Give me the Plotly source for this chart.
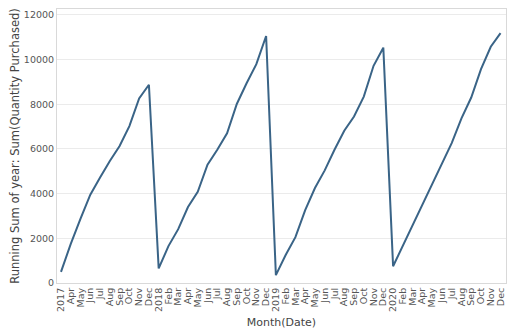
import plotly.graph_objects as go

months = ["2017-03","2017-04","2017-05","2017-06","2017-07","2017-08","2017-09","2017-10","2017-11","2017-12",
          "2018-01","2018-02","2018-03","2018-04","2018-05","2018-06","2018-07","2018-08","2018-09","2018-10","2018-11","2018-12",
          "2019-01","2019-02","2019-03","2019-04","2019-05","2019-06","2019-07","2019-08","2019-09","2019-10","2019-11","2019-12",
          "2020-01","2020-02","2020-03","2020-04","2020-05","2020-06","2020-07","2020-08","2020-09","2020-10","2020-11","2020-12"]

tick_labels = ["2017","Apr","May","Jun","Jul","Aug","Sep","Oct","Nov","Dec",
               "2018","Feb","Mar","Apr","May","Jun","Jul","Aug","Sep","Oct","Nov","Dec",
               "2019","Feb","Mar","Apr","May","Jun","Jul","Aug","Sep","Oct","Nov","Dec",
               "2020","Feb","Mar","Apr","May","Jun","Jul","Aug","Sep","Oct","Nov","Dec"]

running_sum = [500, 1750, 2880, 3950, 4720, 5460, 6130, 7020, 8260, 8870,
               650, 1650, 2410, 3400, 4080, 5290, 5960, 6700, 8010, 8940, 9790, 11050,
               350, 1250, 2050, 3260, 4250, 5040, 5960, 6810, 7450, 8340, 9720, 10530,
               750, 1680, 2560, 3540, 4460, 5380, 6260, 7370, 8300, 9570, 10570, 11180]

y_ticks = [0, 2000, 4000, 6000, 8000, 10000, 12000]

FONT = "DejaVu Sans"

fig = go.Figure()
fig.add_trace(go.Scatter(
    x=months, y=running_sum, mode="lines",
    line=dict(color="#3a6487", width=2),
    hoverinfo="skip"
))

fig.update_layout(
    width=515, height=335,
    margin=dict(l=57, r=9, t=8, b=45),
    plot_bgcolor="white", paper_bgcolor="white",
    showlegend=False,
    font=dict(family=FONT, size=9, color="#666666"),
)

fig.update_xaxes(
    type="category",
    tickmode="array", tickvals=months, ticktext=tick_labels,
    tickangle=-90,
    range=[-0.41, len(months) - 1 + 0.56],
    showgrid=False, zeroline=False,
    showline=True, linecolor="#d9d9d9", linewidth=1, mirror=True,
    ticks="", tickfont=dict(family=FONT, size=9.5, color="#555555"),
    title=dict(text="Month(Date)", font=dict(family=FONT, size=11, color="#444444"), standoff=7),
)

fig.update_yaxes(
    range=[0, 12260],
    tickmode="array", tickvals=y_ticks, tickformat="d",
    showgrid=True, gridcolor="#ebebeb", gridwidth=1,
    zeroline=False,
    showline=True, linecolor="#d9d9d9", linewidth=1, mirror=True,
    ticks="", tickfont=dict(family=FONT, size=9.5, color="#555555"),
    title=dict(text="Running Sum of year: Sum(Quantity Purchased)",
               font=dict(family=FONT, size=11.5, color="#444444"), standoff=1),
)

fig.write_html("out.html")
